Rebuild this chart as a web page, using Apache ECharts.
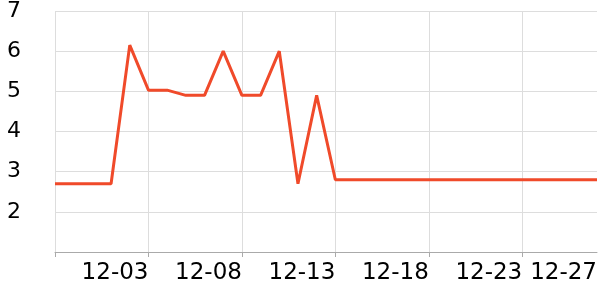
<!DOCTYPE html>
<html>
<head>
<meta charset="utf-8">
<script src="https://cdn.jsdelivr.net/npm/echarts@6/dist/echarts.min.js"></script>
<style>html,body{margin:0;padding:0;background:#fff}#c{width:600px;height:300px}</style>
</head>
<body>
<div id="c"></div>
<script>
var categories = ['11-28','11-29','11-30','12-01','12-02','12-03','12-04','12-05','12-06','12-07',
  '12-08','12-09','12-10','12-11','12-12','12-13','12-14','12-15','12-16','12-17',
  '12-18','12-19','12-20','12-21','12-22','12-23','12-24','12-25','12-26','12-27'];
var values = [2.7,2.7,2.7,2.7,6.15,5.03,5.03,4.9,4.9,6.0,
  4.9,4.9,6.0,2.7,4.9,2.8,2.8,2.8,2.8,2.8,
  2.8,2.8,2.8,2.8,2.8,2.8,2.8,2.8,2.8,2.8];
var yTicks = [1,2,3,4,5,6,7];

var chart = echarts.init(document.getElementById('c'), null, {renderer:'canvas'});
chart.setOption({
  animation: false,
  grid: {left: 55, right: 2, top: 10, bottom: 48},
  xAxis: {
    type: 'category',
    data: categories,
    boundaryGap: false,
    axisLine: {lineStyle: {color: '#aaa', width: 1}},
    axisTick: {interval: 4, length: 5, lineStyle: {color: '#aaa'}},
    splitLine: {show: true, interval: 4, lineStyle: {color: '#ddd', width: 1}},
    axisLabel: {
      interval: function (i) { return (i % 5 === 0 && i > 0) || i === categories.length - 1; },
      align: 'right',
      margin: 10,
      fontSize: 23,
      fontFamily: 'DejaVu Sans',
      color: '#000'
    }
  },
  yAxis: {
    type: 'value',
    min: yTicks[0],
    max: yTicks[yTicks.length - 1],
    interval: 1,
    axisLine: {show: false},
    axisTick: {show: false},
    splitLine: {lineStyle: {color: '#ddd', width: 1}},
    axisLabel: {
      showMinLabel: false,
      margin: 34,
      fontSize: 22,
      fontFamily: 'DejaVu Sans',
      color: '#000'
    }
  },
  series: [{
    type: 'line',
    data: values,
    showSymbol: false,
    symbol: 'none',
    lineStyle: {color: '#f04a2a', width: 3}
  }]
});
</script>
</body>
</html>
